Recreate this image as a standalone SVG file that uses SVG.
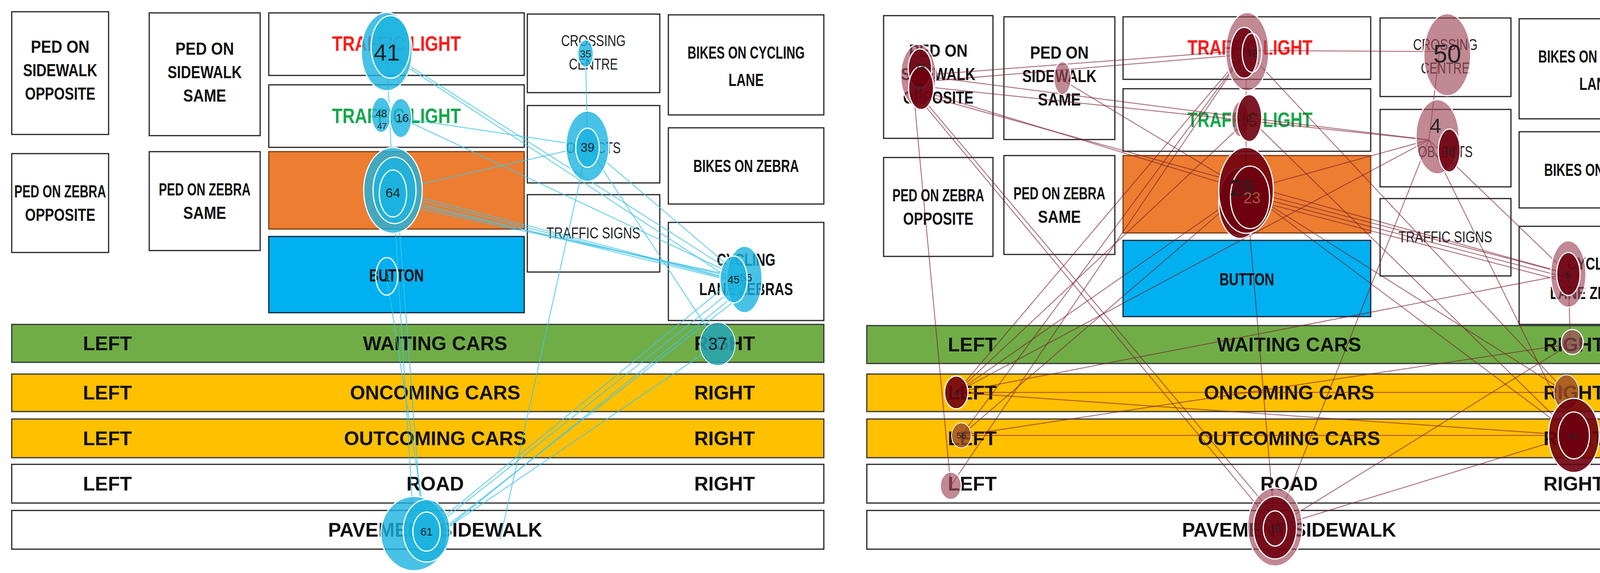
<svg xmlns="http://www.w3.org/2000/svg" width="4313" height="1466" viewBox="0 0 4313 1466">
<style>
.box{fill:#fff;stroke:#222;stroke-width:3}
.lbl{font-family:"Liberation Sans",Arial,sans-serif;font-weight:bold;font-size:44px;fill:#111;text-anchor:middle}
.thin{font-family:"Liberation Sans",Arial,sans-serif;font-size:40px;fill:#222;text-anchor:middle}
.row{font-family:"Liberation Sans",Arial,sans-serif;font-weight:bold;font-size:50px;fill:#111;text-anchor:middle}
.be{stroke:#3fc3e8;stroke-width:2.5;opacity:.75;fill:none}
.re{stroke:#7a1e2e;stroke-width:2.5;opacity:.6;fill:none}
.bn{fill:#1ab3e0;fill-opacity:.8;stroke:#fff;stroke-width:3}
.rn{fill:#9e4a5a;fill-opacity:.65;stroke:#fff;stroke-width:3}
.rd{fill:#6e0010;fill-opacity:.9;stroke:#fff;stroke-width:3}
.num{font-family:"Liberation Sans",Arial,sans-serif;font-size:34px;fill:#222;text-anchor:middle}
</style>
<rect width="4313" height="1466" fill="#fff"/>

<!-- LEFT PANEL -->
<g id="L-boxes">
<g id="L-psw-opp"><rect class="box" x="30" y="30" width="248" height="314"/><text class="lbl" x="154" y="135" textLength="150" lengthAdjust="spacingAndGlyphs">PED ON</text><text class="lbl" x="154" y="195" textLength="190" lengthAdjust="spacingAndGlyphs">SIDEWALK</text><text class="lbl" x="154" y="255" textLength="180" lengthAdjust="spacingAndGlyphs">OPPOSITE</text></g>
<g id="L-psw-same"><rect class="box" x="382" y="33" width="284" height="314"/><text class="lbl" x="524" y="140" textLength="150" lengthAdjust="spacingAndGlyphs">PED ON</text><text class="lbl" x="524" y="200" textLength="190" lengthAdjust="spacingAndGlyphs">SIDEWALK</text><text class="lbl" x="524" y="260" textLength="110" lengthAdjust="spacingAndGlyphs">SAME</text></g>
<g id="L-tl-red"><rect class="box" x="688" y="33" width="654" height="160"/><text class="lbl" x="1015" y="130" style="fill:#ff1a1a;font-size:54px" textLength="330" lengthAdjust="spacingAndGlyphs">TRAFFIC LIGHT</text></g>
<g id="L-tl-green"><rect class="box" x="688" y="217" width="654" height="160"/><text class="lbl" x="1015" y="315" style="fill:#13a84a;font-size:54px" textLength="330" lengthAdjust="spacingAndGlyphs">TRAFFIC LIGHT</text></g>
<g id="L-orange"><rect x="688" y="388" width="654" height="198" fill="#ed7d31" stroke="#7a3b10" stroke-width="3"/></g>
<g id="L-button"><rect x="688" y="605" width="654" height="195" fill="#00b0f0" stroke="#123" stroke-width="3"/><text class="lbl" x="1015" y="720" textLength="140" lengthAdjust="spacingAndGlyphs">BUTTON</text></g>
<g id="L-pz-opp"><rect class="box" x="30" y="393" width="248" height="253"/><text class="lbl" x="154" y="505" textLength="235" lengthAdjust="spacingAndGlyphs">PED ON ZEBRA</text><text class="lbl" x="154" y="565" textLength="180" lengthAdjust="spacingAndGlyphs">OPPOSITE</text></g>
<g id="L-pz-same"><rect class="box" x="382" y="388" width="284" height="253"/><text class="lbl" x="524" y="500" textLength="235" lengthAdjust="spacingAndGlyphs">PED ON ZEBRA</text><text class="lbl" x="524" y="560" textLength="110" lengthAdjust="spacingAndGlyphs">SAME</text></g>
<g id="L-cross"><rect class="box" x="1350" y="36" width="339" height="201"/><text class="thin" x="1519" y="118" textLength="165" lengthAdjust="spacingAndGlyphs">CROSSING</text><text class="thin" x="1519" y="178" textLength="125" lengthAdjust="spacingAndGlyphs">CENTRE</text></g>
<g id="L-objects"><rect class="box" x="1350" y="270" width="339" height="198"/><text class="thin" x="1519" y="392" textLength="140" lengthAdjust="spacingAndGlyphs">OBJECTS</text></g>
<g id="L-signs"><rect class="box" x="1350" y="498" width="339" height="198"/><text class="thin" x="1519" y="610" textLength="240" lengthAdjust="spacingAndGlyphs">TRAFFIC SIGNS</text></g>
<g id="L-bikes-lane"><rect class="box" x="1711" y="38" width="398" height="256"/><text class="lbl" x="1910" y="150" textLength="300" lengthAdjust="spacingAndGlyphs">BIKES ON CYCLING</text><text class="lbl" x="1910" y="220" textLength="90" lengthAdjust="spacingAndGlyphs">LANE</text></g>
<g id="L-bikes-zebra"><rect class="box" x="1711" y="327" width="398" height="195"/><text class="lbl" x="1910" y="440" textLength="270" lengthAdjust="spacingAndGlyphs">BIKES ON ZEBRA</text></g>
<g id="L-cyc-zebras"><rect class="box" x="1711" y="569" width="398" height="251"/><text class="lbl" x="1910" y="680" textLength="150" lengthAdjust="spacingAndGlyphs">CYCLING</text><text class="lbl" x="1910" y="755" textLength="240" lengthAdjust="spacingAndGlyphs">LANE ZEBRAS</text></g>
<g id="L-waiting"><rect x="30" y="830" width="2079" height="97" fill="#70ad47" stroke="#333" stroke-width="3"/><text class="row" x="275" y="896">LEFT</text><text class="row" x="1114" y="896">WAITING CARS</text><text class="row" x="1855" y="896">RIGHT</text></g>
<g id="L-oncoming"><rect x="30" y="957" width="2079" height="96" fill="#ffc000" stroke="#333" stroke-width="3"/><text class="row" x="275" y="1022">LEFT</text><text class="row" x="1114" y="1022">ONCOMING CARS</text><text class="row" x="1855" y="1022">RIGHT</text></g>
<g id="L-outcoming"><rect x="30" y="1072" width="2079" height="99" fill="#ffc000" stroke="#333" stroke-width="3"/><text class="row" x="275" y="1139">LEFT</text><text class="row" x="1114" y="1139">OUTCOMING CARS</text><text class="row" x="1855" y="1139">RIGHT</text></g>
<g id="L-road"><rect class="box" x="30" y="1188" width="2079" height="99"/><text class="row" x="275" y="1255">LEFT</text><text class="row" x="1114" y="1255">ROAD</text><text class="row" x="1855" y="1255">RIGHT</text></g>
<g id="L-pavement"><rect class="box" x="30" y="1306" width="2079" height="99"/><text class="row" x="1114" y="1373">PAVEMENT SIDEWALK</text></g>
</g>

<g id="L-edges">
<line class="be" x1="990" y1="132" x2="1906" y2="715"/>
<line class="be" x1="1010" y1="150" x2="1880" y2="720"/>
<line class="be" x1="990" y1="132" x2="1006" y2="487"/>
<line class="be" x1="1026" y1="302" x2="1504" y2="374"/>
<line class="be" x1="1026" y1="302" x2="1906" y2="715"/>
<line class="be" x1="1006" y1="487" x2="1504" y2="374"/>
<line class="be" x1="1006" y1="487" x2="1878" y2="715"/>
<line class="be" x1="1006" y1="495" x2="1890" y2="720"/>
<line class="be" x1="1006" y1="505" x2="1900" y2="725"/>
<line class="be" x1="1006" y1="512" x2="1906" y2="715"/>
<line class="be" x1="1006" y1="520" x2="1878" y2="705"/>
<line class="be" x1="1499" y1="137" x2="1504" y2="374"/>
<line class="be" x1="1504" y1="374" x2="1906" y2="715"/>
<line class="be" x1="1504" y1="374" x2="1837" y2="880"/>
<line class="be" x1="1504" y1="374" x2="1280" y2="1380"/>
<line class="be" x1="990" y1="707" x2="1092" y2="1358"/>
<line class="be" x1="1006" y1="487" x2="1060" y2="1358"/>
<line class="be" x1="1015" y1="487" x2="1080" y2="1340"/>
<line class="be" x1="1878" y1="715" x2="1092" y2="1358"/>
<line class="be" x1="1890" y1="730" x2="1110" y2="1350"/>
<line class="be" x1="1900" y1="740" x2="1120" y2="1370"/>
<line class="be" x1="1906" y1="750" x2="1100" y2="1380"/>
<line class="be" x1="1837" y1="880" x2="1130" y2="1360"/>
</g>

<g id="L-nodes">
<g id="L-n41"><ellipse class="bn" cx="990" cy="132" rx="65" ry="100"/><ellipse class="bn" cx="1000" cy="120" rx="50" ry="80"/><text class="num" x="990" y="155" style="font-size:60px">41</text></g>
<g id="L-n48"><ellipse class="bn" cx="976" cy="294" rx="25" ry="45"/><text class="num" x="976" y="300" style="font-size:26px">48</text><text class="num" x="978" y="330" style="font-size:22px">47</text></g>
<g id="L-n16"><ellipse class="bn" cx="1026" cy="302" rx="28" ry="50"/><text class="num" x="1030" y="312" style="font-size:30px">16</text></g>
<g id="L-n64"><ellipse class="bn" cx="1006" cy="487" rx="75" ry="110"/><ellipse class="bn" cx="1010" cy="487" rx="55" ry="85"/><ellipse class="bn" cx="1006" cy="495" rx="35" ry="60"/><text class="num" x="1006" y="505" style="font-size:34px">64</text></g>
<g id="L-n1"><ellipse cx="990" cy="707" rx="28" ry="48" fill="none" stroke="#fff" stroke-width="3"/><text class="num" x="992" y="720" style="font-size:26px">1</text></g>
<g id="L-n35"><ellipse class="bn" cx="1499" cy="137" rx="20" ry="35"/><text class="num" x="1499" y="147" style="font-size:26px">35</text></g>
<g id="L-n39"><ellipse class="bn" cx="1504" cy="374" rx="55" ry="90"/><ellipse class="bn" cx="1504" cy="378" rx="30" ry="50"/><text class="num" x="1504" y="388" style="font-size:32px">39</text></g>
<g id="L-n56"><ellipse class="bn" cx="1906" cy="715" rx="45" ry="85"/><text class="num" x="1910" y="720" style="font-size:28px">56</text></g>
<g id="L-n45"><ellipse class="bn" cx="1878" cy="715" rx="35" ry="60"/><text class="num" x="1878" y="725" style="font-size:28px">45</text></g>
<g id="L-n37"><ellipse cx="1837" cy="880" rx="45" ry="55" fill="#26a3b5" fill-opacity=".85" stroke="#fff" stroke-width="2"/><text class="num" x="1837" y="895" style="font-size:44px">37</text></g>
<g id="L-n61"><ellipse class="bn" cx="1060" cy="1365" rx="85" ry="95"/><ellipse class="bn" cx="1092" cy="1358" rx="60" ry="80"/><ellipse class="bn" cx="1092" cy="1360" rx="35" ry="50"/><text class="num" x="1092" y="1370" style="font-size:28px">61</text></g>
</g>

<!-- RIGHT PANEL -->
<g id="R-boxes">
<g id="R-psw-opp"><rect class="box" x="2262" y="40" width="280" height="314"/><text class="lbl" x="2402" y="145" textLength="150" lengthAdjust="spacingAndGlyphs">PED ON</text><text class="lbl" x="2402" y="205" textLength="190" lengthAdjust="spacingAndGlyphs">SIDEWALK</text><text class="lbl" x="2402" y="265" textLength="180" lengthAdjust="spacingAndGlyphs">OPPOSITE</text></g>
<g id="R-psw-same"><rect class="box" x="2570" y="43" width="284" height="314"/><text class="lbl" x="2712" y="150" textLength="150" lengthAdjust="spacingAndGlyphs">PED ON</text><text class="lbl" x="2712" y="210" textLength="190" lengthAdjust="spacingAndGlyphs">SIDEWALK</text><text class="lbl" x="2712" y="270" textLength="110" lengthAdjust="spacingAndGlyphs">SAME</text></g>
<g id="R-tl-red"><rect class="box" x="2875" y="43" width="634" height="160"/><text class="lbl" x="3200" y="140" style="fill:#ff1a1a;font-size:54px" textLength="320" lengthAdjust="spacingAndGlyphs">TRAFFIC LIGHT</text></g>
<g id="R-tl-green"><rect class="box" x="2875" y="227" width="634" height="160"/><text class="lbl" x="3200" y="325" style="fill:#13a84a;font-size:54px" textLength="320" lengthAdjust="spacingAndGlyphs">TRAFFIC LIGHT</text></g>
<g id="R-orange"><rect x="2875" y="398" width="634" height="198" fill="#ed7d31" stroke="#7a3b10" stroke-width="3"/></g>
<g id="R-button"><rect x="2875" y="615" width="634" height="195" fill="#00b0f0" stroke="#123" stroke-width="3"/><text class="lbl" x="3192" y="730" textLength="140" lengthAdjust="spacingAndGlyphs">BUTTON</text></g>
<g id="R-pz-opp"><rect class="box" x="2262" y="403" width="280" height="253"/><text class="lbl" x="2402" y="515" textLength="235" lengthAdjust="spacingAndGlyphs">PED ON ZEBRA</text><text class="lbl" x="2402" y="575" textLength="180" lengthAdjust="spacingAndGlyphs">OPPOSITE</text></g>
<g id="R-pz-same"><rect class="box" x="2570" y="398" width="284" height="253"/><text class="lbl" x="2712" y="510" textLength="235" lengthAdjust="spacingAndGlyphs">PED ON ZEBRA</text><text class="lbl" x="2712" y="570" textLength="110" lengthAdjust="spacingAndGlyphs">SAME</text></g>
<g id="R-cross"><rect class="box" x="3533" y="46" width="335" height="201"/><text class="thin" x="3700" y="128" textLength="165" lengthAdjust="spacingAndGlyphs">CROSSING</text><text class="thin" x="3700" y="188" textLength="125" lengthAdjust="spacingAndGlyphs">CENTRE</text></g>
<g id="R-objects"><rect class="box" x="3533" y="280" width="335" height="198"/><text class="thin" x="3700" y="402" textLength="140" lengthAdjust="spacingAndGlyphs">OBJECTS</text></g>
<g id="R-signs"><rect class="box" x="3533" y="508" width="335" height="198"/><text class="thin" x="3700" y="620" textLength="240" lengthAdjust="spacingAndGlyphs">TRAFFIC SIGNS</text></g>
<g id="R-bikes-lane"><rect class="box" x="3889" y="48" width="398" height="256"/><text class="lbl" x="4088" y="160" textLength="300" lengthAdjust="spacingAndGlyphs">BIKES ON CYCLING</text><text class="lbl" x="4088" y="230" textLength="90" lengthAdjust="spacingAndGlyphs">LANE</text></g>
<g id="R-bikes-zebra"><rect class="box" x="3889" y="337" width="398" height="195"/><text class="lbl" x="4088" y="450" textLength="270" lengthAdjust="spacingAndGlyphs">BIKES ON ZEBRA</text></g>
<g id="R-cyc-zebras"><rect class="box" x="3889" y="579" width="398" height="251"/><text class="lbl" x="4088" y="690" textLength="150" lengthAdjust="spacingAndGlyphs">CYCLING</text><text class="lbl" x="4088" y="765" textLength="240" lengthAdjust="spacingAndGlyphs">LANE ZEBRAS</text></g>
<g id="R-waiting"><rect x="2219" y="833" width="2063" height="97" fill="#70ad47" stroke="#333" stroke-width="3"/><text class="row" x="2489" y="899">LEFT</text><text class="row" x="3300" y="899">WAITING CARS</text><text class="row" x="4029" y="899">RIGHT</text></g>
<g id="R-oncoming"><rect x="2219" y="957" width="2063" height="96" fill="#ffc000" stroke="#333" stroke-width="3"/><text class="row" x="2489" y="1022">LEFT</text><text class="row" x="3300" y="1022">ONCOMING CARS</text><text class="row" x="4029" y="1022">RIGHT</text></g>
<g id="R-outcoming"><rect x="2219" y="1072" width="2063" height="99" fill="#ffc000" stroke="#333" stroke-width="3"/><text class="row" x="2489" y="1139">LEFT</text><text class="row" x="3300" y="1139">OUTCOMING CARS</text><text class="row" x="4029" y="1139">RIGHT</text></g>
<g id="R-road"><rect class="box" x="2219" y="1188" width="2063" height="99"/><text class="row" x="2489" y="1255">LEFT</text><text class="row" x="3300" y="1255">ROAD</text><text class="row" x="4029" y="1255">RIGHT</text></g>
<g id="R-pavement"><rect class="box" x="2219" y="1306" width="2063" height="99"/><text class="row" x="3300" y="1373">PAVEMENT SIDEWALK</text></g>
</g>

<g id="R-edges">
<line class="re" x1="2351" y1="193" x2="3190" y2="129"/>
<line class="re" x1="2351" y1="210" x2="3180" y2="140"/>
<line class="re" x1="2351" y1="193" x2="3198" y2="302"/>
<line class="re" x1="2351" y1="220" x2="3658" y2="358"/>
<line class="re" x1="2351" y1="230" x2="3190" y2="487"/>
<line class="re" x1="2351" y1="240" x2="4015" y2="701"/>
<line class="re" x1="2351" y1="250" x2="3264" y2="1348"/>
<line class="re" x1="2360" y1="250" x2="3280" y2="1340"/>
<line class="re" x1="2340" y1="250" x2="2434" y2="1243"/>
<line class="re" x1="2709" y1="198" x2="3190" y2="487"/>
<line class="re" x1="3190" y1="129" x2="3685" y2="132"/>
<line class="re" x1="3190" y1="129" x2="3190" y2="487"/>
<line class="re" x1="3190" y1="129" x2="2448" y2="1004"/>
<line class="re" x1="3190" y1="129" x2="2461" y2="1114"/>
<line class="re" x1="3190" y1="129" x2="4010" y2="1004"/>
<line class="re" x1="3198" y1="302" x2="3658" y2="358"/>
<line class="re" x1="3198" y1="302" x2="2448" y2="1004"/>
<line class="re" x1="3198" y1="302" x2="4029" y2="1114"/>
<line class="re" x1="3190" y1="487" x2="4015" y2="701"/>
<line class="re" x1="3190" y1="497" x2="4010" y2="710"/>
<line class="re" x1="3190" y1="507" x2="4005" y2="720"/>
<line class="re" x1="3190" y1="487" x2="4029" y2="1114"/>
<line class="re" x1="3190" y1="487" x2="2448" y2="1004"/>
<line class="re" x1="3190" y1="487" x2="2461" y2="1114"/>
<line class="re" x1="3190" y1="487" x2="4010" y2="1004"/>
<line class="re" x1="3190" y1="487" x2="3264" y2="1348"/>
<line class="re" x1="3190" y1="487" x2="3658" y2="358"/>
<line class="re" x1="3685" y1="132" x2="3658" y2="358"/>
<line class="re" x1="3658" y1="358" x2="4015" y2="701"/>
<line class="re" x1="3658" y1="358" x2="2448" y2="1004"/>
<line class="re" x1="3658" y1="358" x2="4029" y2="1114"/>
<line class="re" x1="3658" y1="358" x2="3264" y2="1348"/>
<line class="re" x1="4015" y1="701" x2="4020" y2="880"/>
<line class="re" x1="4015" y1="701" x2="2448" y2="1004"/>
<line class="re" x1="4020" y1="880" x2="2461" y2="1114"/>
<line class="re" x1="2448" y1="1004" x2="4010" y2="1004"/>
<line class="re" x1="2448" y1="1004" x2="4029" y2="1114"/>
<line class="re" x1="2461" y1="1114" x2="4029" y2="1114"/>
<line class="re" x1="2434" y1="1243" x2="3190" y2="129"/>
<line class="re" x1="3264" y1="1348" x2="4029" y2="1114"/>
<line class="re" x1="3264" y1="1348" x2="4020" y2="880"/>
</g>

<g id="R-nodes">
<g id="R-n78"><ellipse class="rn" cx="2351" cy="193" rx="45" ry="80"/><ellipse class="rd" cx="2355" cy="175" rx="30" ry="50"/><ellipse class="rd" cx="2358" cy="225" rx="32" ry="55"/><text class="num" x="2356" y="180" style="font-size:24px">78</text><text class="num" x="2350" y="235" style="font-size:24px">77</text></g>
<g id="R-nB"><ellipse class="rn" cx="2720" cy="200" rx="22" ry="42"/></g>
<g id="R-n12"><ellipse class="rn" cx="3193" cy="132" rx="55" ry="100"/><ellipse class="rd" cx="3185" cy="135" rx="35" ry="65"/><ellipse cx="3205" cy="135" rx="25" ry="50" fill="none" stroke="#fff" stroke-width="3"/><text class="num" x="3205" y="145" style="font-size:26px">12</text></g>
<g id="R-n2"><ellipse class="rn" cx="3175" cy="305" rx="22" ry="45"/><ellipse class="rd" cx="3198" cy="302" rx="32" ry="60"/><text class="num" x="3198" y="312" style="font-size:26px">2</text></g>
<g id="R-n28"><ellipse class="rd" cx="3175" cy="520" rx="55" ry="90"/><ellipse class="rd" cx="3190" cy="487" rx="70" ry="110"/><ellipse class="rd" cx="3200" cy="505" rx="50" ry="80"/><text class="num" x="3180" y="500" style="font-size:58px">28</text><text class="num" x="3205" y="520" style="font-size:40px;fill:#a54">23</text></g>
<g id="R-n50"><ellipse class="rn" cx="3705" cy="140" rx="60" ry="105"/><text class="num" x="3705" y="160" style="font-size:64px">50</text></g>
<g id="R-n18a"><ellipse class="rn" cx="3680" cy="350" rx="55" ry="95"/><ellipse class="rd" cx="3710" cy="385" rx="28" ry="55"/><text class="num" x="3675" y="340" style="font-size:52px">4</text><text class="num" x="3710" y="395" style="font-size:26px">18</text></g>
<g id="R-n6"><ellipse class="rn" cx="4015" cy="701" rx="45" ry="85"/><ellipse class="rd" cx="4015" cy="701" rx="30" ry="55"/><text class="num" x="4015" y="712" style="font-size:26px">6</text></g>
<g id="R-nI"><ellipse class="rn" cx="4025" cy="875" rx="28" ry="32"/></g>
<g id="R-n4"><ellipse class="rd" cx="2448" cy="1004" rx="30" ry="42"/><text class="num" x="2448" y="1014" style="font-size:24px">4</text></g>
<g id="R-n56"><ellipse cx="2461" cy="1114" rx="25" ry="32" fill="#9a4a2a" fill-opacity=".8" stroke="#fff" stroke-width="2"/><text class="num" x="2461" y="1122" style="font-size:22px">56</text></g>
<g id="R-nL"><ellipse class="rn" cx="2434" cy="1243" rx="27" ry="35"/></g>
<g id="R-nM"><ellipse cx="4010" cy="1004" rx="32" ry="45" fill="#9a4a2a" fill-opacity=".8" stroke="#fff" stroke-width="2"/></g>
<g id="R-n41"><ellipse class="rd" cx="4029" cy="1114" rx="65" ry="95"/><ellipse class="rd" cx="4029" cy="1114" rx="40" ry="60"/><text class="num" x="4029" y="1124" style="font-size:26px">41</text></g>
<g id="R-n18"><ellipse class="rn" cx="3264" cy="1348" rx="70" ry="100"/><ellipse class="rd" cx="3264" cy="1350" rx="55" ry="80"/><ellipse cx="3264" cy="1352" rx="30" ry="45" fill="none" stroke="#fff" stroke-width="3"/><text class="num" x="3264" y="1362" style="font-size:26px">18</text></g>
</g>
</svg>
